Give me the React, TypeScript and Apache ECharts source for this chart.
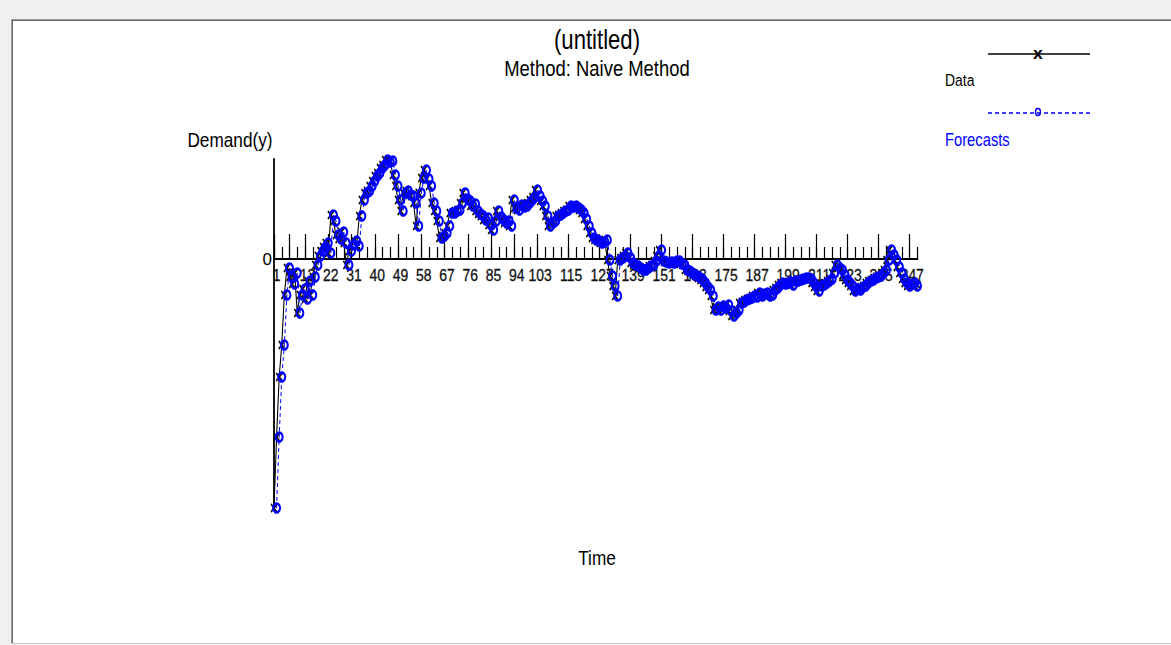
import React, { useEffect, useRef } from "react";
import * as echarts from "echarts";

// Demand(y) per period (1..250)
const DEMAND: number[] = [
  -249, -178, -118, -86, -36, -9, -18, -25, -14, -54,
  -36, -30, -40, -22, -36, -18, -6, 3, 8, 12,
  16, 6, 44, 38, 24, 20, 27, 16, -6, 8,
  14, 18, 13, 43, 59, 66, 68, 73, 78, 83,
  86, 91, 94, 99, 97, 98, 84, 73, 59, 48,
  66, 68, 64, 63, 56, 33, 66, 81, 89, 80,
  73, 56, 48, 38, 21, 23, 26, 33, 46, 46,
  48, 49, 56, 66, 60, 58, 53, 55, 48, 45,
  43, 39, 41, 34, 29, 38, 48, 42, 39, 36,
  38, 33, 59, 51, 49, 54, 52, 53, 56, 59,
  62, 69, 63, 58, 53, 43, 33, 36, 38, 43,
  44, 46, 48, 49, 53, 52, 53, 51, 49, 46,
  40, 33, 26, 21, 19, 18, 16, 17, 19, -1,
  -17, -27, -37, -1, 1, 3, 6, 1, -4, -6,
  -7, -9, -11, -11, -9, -7, -6, -2, 3, 9,
  -2, -3, -4, -3, -4, -2, -2, -5, -6, -11,
  -12, -14, -16, -17, -19, -21, -24, -28, -31, -37,
  -51, -48, -51, -47, -49, -46, -52, -57, -54, -51,
  -44, -43, -41, -40, -39, -37, -38, -34, -37, -35,
  -34, -37, -36, -31, -29, -26, -24, -25, -24, -23,
  -26, -22, -22, -21, -20, -19, -19, -20, -24, -28,
  -32, -27, -26, -24, -22, -20, -14, -6, -9, -11,
  -16, -21, -24, -27, -32, -30, -31, -28, -27, -24,
  -22, -21, -19, -18, -17, -14, -11, -1, 9, 4,
  -1, -8, -14, -20, -24, -27, -25, -24, -27, -26,
];

const X_LABELS: number[] = [
  1, 7, 13, 22, 31, 40, 49, 58, 67, 76, 85, 94, 103, 115, 127, 139, 151, 163,
  175, 187, 199, 211, 223, 235, 247,
];
const TICK_STEP = 3;
const X_MIN = 1;
const X_MAX = 250;
const Y_MIN = -250;
const Y_MAX = 100;

const TITLE = "(untitled)";
const SUBTITLE = "Method: Naive Method";
const Y_NAME = "Demand(y)";
const X_NAME = "Time";
const LEGEND_DATA = "Data";
const LEGEND_FC = "Forecasts";

const FONT = "'Liberation Sans', Arial, sans-serif";
const NARROW = 0.82;

const X_SYMBOL = "path://M0,0L8,9M8,0L0,9";

export default function App() {
  const ref = useRef<HTMLDivElement>(null);

  useEffect(() => {
    if (!ref.current) return;
    const chart = echarts.init(ref.current, undefined, { renderer: "svg" });

    const dataPts = DEMAND.map((v, i) => [i + 1, v]);
    // Naive method: forecast for period t is the actual value of period t-1
    const fcPts = DEMAND.slice(0, DEMAND.length - 1).map((v, i) => [i + 2, v]);

    const minorTicks: number[] = [];
    for (let t = X_MIN; t <= X_MAX; t += TICK_STEP) minorTicks.push(t);

    const txt = (text: string, x: number, y: number, size: number, fill: string, align = "center") => ({
      type: "text",
      x,
      y,
      scaleX: NARROW,
      style: { text, font: `${size}px ${FONT}`, fill, align, verticalAlign: "middle" },
    });

    chart.setOption({
      animation: false,
      grid: { left: 274, right: 253.5, top: 159, bottom: 136, containLabel: false },
      xAxis: [
        {
          type: "value",
          min: X_MIN,
          max: X_MAX,
          position: "bottom",
          axisLine: { show: true, onZero: true, onZeroAxisIndex: 0, lineStyle: { color: "#000", width: 1.8 } },
          axisTick: { show: true, inside: true, length: 25, customValues: X_LABELS, lineStyle: { color: "#000", width: 1.2 } },
          axisLabel: { show: false },
          splitLine: { show: false },
        },
        {
          type: "value",
          min: X_MIN,
          max: X_MAX,
          position: "bottom",
          axisLine: { show: false, onZero: true, onZeroAxisIndex: 0 },
          axisTick: { show: true, inside: true, length: 12, customValues: minorTicks, lineStyle: { color: "#000", width: 1.2 } },
          axisLabel: { show: false },
          splitLine: { show: false },
        },
      ],
      yAxis: {
        type: "value",
        min: Y_MIN,
        max: Y_MAX,
        interval: 50,
        axisLine: { show: true, onZero: false, lineStyle: { color: "#000", width: 1.8 } },
        axisTick: { show: false },
        axisLabel: {
          color: "#000",
          fontSize: 17,
          fontFamily: FONT,
          margin: 2,
          formatter: (v: number) => (v === 0 ? "0" : ""),
        },
        splitLine: { show: false },
      },
      series: [
        {
          name: "xLabels",
          type: "custom",
          silent: true,
          clip: false,
          z: 1,
          data: X_LABELS.map((v) => [v, 0]),
          renderItem: (_params: any, api: any) => {
            const v = api.value(0);
            const p = api.coord([v, 0]);
            return {
              type: "text",
              x: p[0] + 2.5,
              y: p[1] + 7,
              scaleX: NARROW,
              style: { text: String(v), font: `17px ${FONT}`, fill: "#111", align: "center", verticalAlign: "top", stroke: "#111", lineWidth: 0.3 },
            };
          },
        },
        {
          name: LEGEND_DATA,
          type: "line",
          data: dataPts,
          showAllSymbol: true,
          symbol: X_SYMBOL,
          symbolSize: [6, 8],
          lineStyle: { color: "#000", width: 1.1 },
          itemStyle: { color: "transparent", borderColor: "#1a1200", borderWidth: 1.7 },
          z: 3,
        },
        {
          name: LEGEND_FC,
          type: "line",
          data: fcPts,
          showAllSymbol: true,
          symbol: "circle",
          symbolSize: [7, 9],
          lineStyle: { color: "#0000ff", width: 1, type: [4, 3] },
          itemStyle: { color: "transparent", borderColor: "#0000ff", borderWidth: 2.3 },
          z: 4,
        },
      ],
      graphic: [
        txt(TITLE, 597, 40, 27, "#000"),
        txt(SUBTITLE, 597, 68, 22.5, "#000"),
        txt(Y_NAME, 230, 140, 21, "#000"),
        txt(X_NAME, 597, 558, 21, "#000"),
        { type: "line", shape: { x1: 988, y1: 54, x2: 1090, y2: 54 }, style: { stroke: "#000", lineWidth: 1.6 } },
        { type: "text", x: 1038, y: 54, scaleX: 1.1, style: { text: "x", font: `bold 16px ${FONT}`, fill: "#000", align: "center", verticalAlign: "middle" } },
        txt(LEGEND_DATA, 945, 80, 17, "#000", "left"),
        { type: "line", shape: { x1: 988, y1: 113, x2: 1090, y2: 113 }, style: { stroke: "#0000ff", lineWidth: 1.4, lineDash: [4, 3] } },
        { type: "ellipse", shape: { cx: 1038, cy: 112, rx: 2.5, ry: 3.5 }, style: { stroke: "#0000ff", fill: "transparent", lineWidth: 1.4 } },
        txt(LEGEND_FC, 945, 139, 18, "#0000ff", "left"),
      ],
    });

    return () => chart.dispose();
  }, []);

  return (
    <div style={{ position: "fixed", left: 0, top: 0, width: 1171, height: 645, background: "#f0f0f0", overflow: "hidden" }}>
      <div
        style={{
          position: "absolute",
          left: 11,
          top: 19,
          width: 1160,
          height: 625,
          background: "#fff",
          borderTop: "1px solid #a0a0a0",
          borderLeft: "1px solid #a0a0a0",
          borderBottom: "1px solid #c8c8c8",
          boxShadow: "inset 1px 1px 0 #696969",
          boxSizing: "border-box",
        }}
      />
      <div ref={ref} style={{ position: "absolute", left: 0, top: 0, width: 1171, height: 645 }} />
    </div>
  );
}
